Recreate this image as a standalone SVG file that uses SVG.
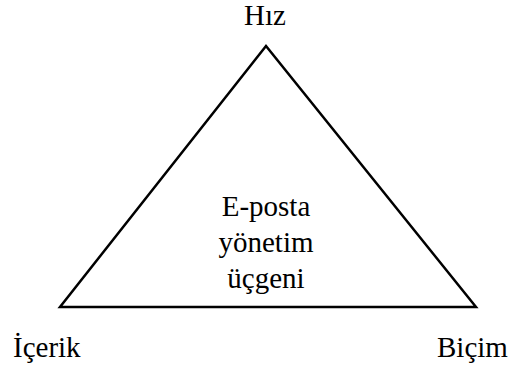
<svg xmlns="http://www.w3.org/2000/svg" width="509" height="365" viewBox="0 0 509 365">
<style>
text{font-family:'Liberation Serif','Times New Roman',serif;font-size:29px;fill:#000}
.c{text-anchor:middle}
</style>
<rect width="509" height="365" fill="#fff"/>
<g id="connectors">
<polygon points="266,46 60,307 476,307" fill="none" stroke="#000" stroke-width="2.5" stroke-linejoin="miter"/>
</g>
<g id="hiz"><text class="c" x="265" y="25">Hız</text></g>
<g id="icerik"><text x="13" y="357">İçerik</text></g>
<g id="bicim"><text x="437" y="357">Biçim</text></g>
<g id="center"><text class="c" x="266" y="216">E-posta</text><text class="c" x="266" y="252">yönetim</text><text class="c" x="266" y="288">üçgeni</text></g>
</svg>
